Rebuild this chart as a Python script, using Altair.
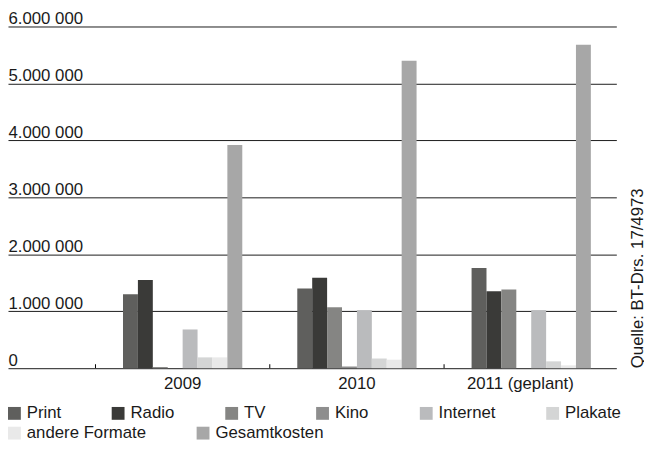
import altair as alt
import pandas as pd

years = ["2009", "2010", "2011 (geplant)"]
categories = ["Print", "Radio", "TV", "Kino", "Internet", "Plakate",
              "andere Formate", "Gesamtkosten"]
values_2009 = [1300000, 1550000, 20000, 0, 680000, 190000, 190000, 3920000]
values_2010 = [1400000, 1590000, 1070000, 30000, 1020000, 170000, 150000, 5400000]
values_2011 = [1760000, 1350000, 1380000, 0, 1020000, 120000, 50000, 5680000]
colors = ["#5f5f5d", "#3a3a38", "#858583", "#8e8e8e", "#babbbd",
          "#d4d5d5", "#e9e9e9", "#a7a7a7"]
y_ticks = [0, 1000000, 2000000, 3000000, 4000000, 5000000, 6000000]
y_tick_labels = ["0", "1.000 000", "2.000 000", "3.000 000", "4.000 000",
                 "5.000 000", "6.000 000"]
source_text = "Quelle: BT-Drs.  17/4973"

rows = []
for year, vals in zip(years, [values_2009, values_2010, values_2011]):
    for cat, v in zip(categories, vals):
        rows.append({"Jahr": year, "Kategorie": cat, "Wert": v})
df = pd.DataFrame(rows)
ticks_df = pd.DataFrame({"Jahr": years})
row1 = categories[:6]
row2 = categories[6:]
leg1_df = pd.DataFrame({"Kategorie": row1})
leg2_df = pd.DataFrame({"Kategorie": row2})

label_expr = ""
for t, lab in zip(y_ticks, y_tick_labels):
    label_expr += f"datum.value == {t} ? '{lab}' : "
label_expr += "''"

FONT = "Liberation Sans"
FS = 17
TXT = "#1a1a1a"
W, H = 616, 346
STEP = 176.5
PI = 0.3156
PO = 0.403
ALIGN = 0.8186

x_axis = alt.Axis(title=None, labelAngle=0, domain=False, ticks=False,
                  labelFontSize=FS, labelFont=FONT, labelColor=TXT,
                  labelPadding=8,
                  labelOffset={"condition": {"test": f"datum.value === '{years[2]}'",
                                             "value": -11}, "value": 0})
x_scale = alt.Scale(paddingInner=PI, paddingOuter=PO, align=ALIGN)


def legend(y):
    return alt.Legend(title=None, orient="none", legendX=-2, legendY=y,
                      direction="horizontal", columns=6,
                      columnPadding=49, symbolType="square", symbolSize=169,
                      symbolStrokeWidth=0, symbolOpacity=1, labelOffset=4,
                      labelFontSize=FS, labelFont=FONT, labelColor=TXT)


bars = alt.Chart(df).mark_bar().encode(
    x=alt.X("Jahr:N", sort=years, scale=x_scale, axis=x_axis),
    xOffset=alt.XOffset("Kategorie:N", sort=categories,
                        scale=alt.Scale(paddingInner=0, paddingOuter=0)),
    y=alt.Y("Wert:Q", scale=alt.Scale(domain=[0, 6000000], nice=False),
            axis=alt.Axis(title=None, values=y_ticks, labelExpr=label_expr,
                          grid=True, gridColor=TXT, gridWidth=1,
                          domain=False, ticks=False, tickSize=0,
                          labelAlign="left", labelBaseline="alphabetic",
                          labelPadding=0, labelOffset=-3,
                          labelFontSize=FS, labelFont=FONT, labelColor=TXT)),
    color=alt.Color("Kategorie:N", sort=categories,
                    scale=alt.Scale(domain=categories, range=colors),
                    legend=None),
)

tick_marks = alt.Chart(ticks_df).mark_rule(
    color="#000", strokeWidth=1, xOffset=-PI * STEP / 2
).encode(
    x=alt.X("Jahr:N", sort=years, bandPosition=0, scale=x_scale, axis=x_axis),
    y=alt.value(H - 4),
    y2=alt.value(H),
)

legend1 = alt.Chart(leg1_df).mark_square(opacity=0, size=1).encode(
    x=alt.value(W / 2), y=alt.value(H / 2),
    color=alt.Color("Kategorie:N", sort=row1,
                    scale=alt.Scale(domain=row1, range=colors[:6]),
                    legend=legend(H + 37)),
)
legend2 = alt.Chart(leg2_df).mark_square(opacity=0, size=1).encode(
    x=alt.value(W / 2), y=alt.value(H / 2),
    color=alt.Color("Kategorie:N", sort=row2,
                    scale=alt.Scale(domain=row2, range=colors[6:]),
                    legend=legend(H + 57)),
)

chart = alt.layer(bars, tick_marks, legend1, legend2).resolve_scale(
    color="independent"
).properties(
    width=W, height=H,
    autosize=alt.AutoSizeParams(type="none"),
    padding={"left": 0, "top": 16, "right": 28, "bottom": 72},
    title=alt.TitleParams(text=source_text, orient="right", anchor="end",
                          frame="group", angle=270, align="left",
                          baseline="alphabetic", offset=5, fontSize=FS,
                          font=FONT, fontWeight="normal", color=TXT),
).configure_view(stroke=None)

chart.save("out.html", embed_options={"renderer": "svg", "actions": False})
